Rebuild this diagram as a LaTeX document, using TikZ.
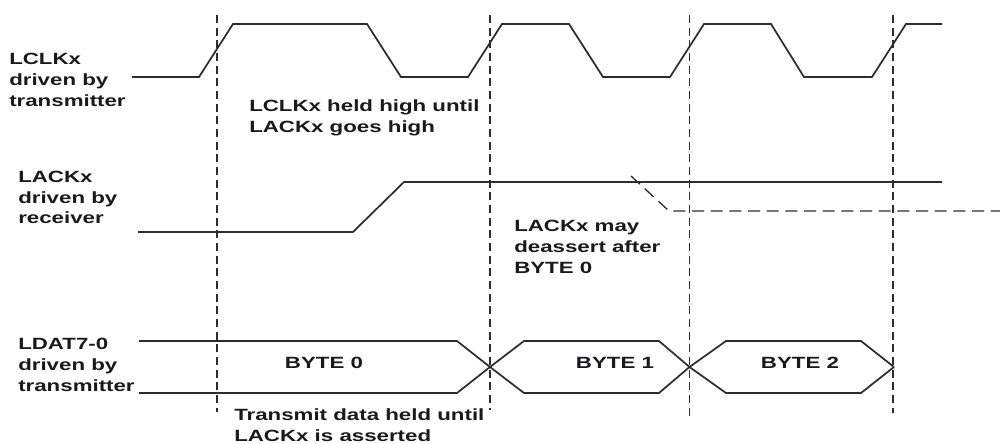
\documentclass[tikz,border=0pt]{standalone}
\usepackage{fontspec}
\setmainfont{Liberation Sans}[FakeStretch=1.37]
\usepackage{xcolor}
\usepackage{tikz}

\definecolor{wavegray}{RGB}{45,45,45}
\definecolor{labelink}{RGB}{25,25,30}

\tikzset{
  wave/.style={draw=wavegray, line width=1.3pt, line join=miter},
  guide/.style={draw=wavegray, line width=0.9pt, dash pattern=on 6pt off 3.5pt},
  maybe/.style={draw=wavegray, line width=1pt, dash pattern=on 9pt off 5pt},
  lbl/.style={inner sep=0pt, align=left, anchor=west, text=labelink,
    font=\fontsize{12.2}{15.6}\selectfont\bfseries},
  bytelbl/.style={inner sep=0pt, text=labelink,
    font=\fontsize{12.2}{15.6}\selectfont\bfseries}
}

\begin{document}
\begin{tikzpicture}[x=0.75pt,y=0.75pt,yscale=-1,xscale=1]
\useasboundingbox (0,0) rectangle (1000,443);

%Dashed guides at the clock edges
\draw [guide] (217,15) -- (217,412) ;
\draw [guide] (490,15) -- (490,410) ;
\draw [guide] (689.5,15) -- (689.5,420) ;
\draw [guide] (893,15) -- (893,413) ;

%Clock waveform
\draw [wave] (132,77) -- (199,77) -- (233,24) -- (367,24) -- (401,77) -- (468,77) -- (502,24) -- (569,24) -- (603,77) -- (670,77) -- (704,24) -- (771,24) -- (804,77) -- (872,77) -- (906,24) -- (942,24) ;

%Acknowledge waveform
\draw [wave] (138,232) -- (353,232) -- (404,182) -- (942,182) ;
\draw [maybe] (631,176) -- (669,211) -- (1000,211) ;

%Data bus, upper and lower rails
\draw [wave] (139,341) -- (457,341) -- (490,367) -- (524,393) -- (659,393) -- (689.5,367) -- (726,393) -- (861,393) -- (894,367) ;
\draw [wave] (139,393) -- (457,393) -- (490,367) -- (524,341) -- (659,341) -- (689.5,367) -- (726,341) -- (861,341) -- (894,367) ;

% Text Node
\node [lbl] (lclk) at (9,80) {LCLKx\\driven by\\transmitter};
% Text Node
\node [lbl] (lack) at (18,197.5) {LACKx\\driven by\\receiver};
% Text Node
\node [lbl] (ldat) at (18,365) {LDAT7-0\\driven by\\transmitter};
% Text Node
\node [lbl] (heldhigh) at (249,117.5) {LCLKx held high until\\LACKx goes high};
% Text Node
\node [lbl] (deassert) at (514,247) {LACKx may\\deassert after\\BYTE 0};
% Text Node
\node [lbl] (heldtx) at (234,425) {Transmit data held until\\LACKx is asserted};
% Text Node
\node [bytelbl] (byte0) at (324,363) {BYTE 0};
% Text Node
\node [bytelbl] (byte1) at (615,363) {BYTE 1};
% Text Node
\node [bytelbl] (byte2) at (800,363) {BYTE 2};
\end{tikzpicture}
\end{document}
